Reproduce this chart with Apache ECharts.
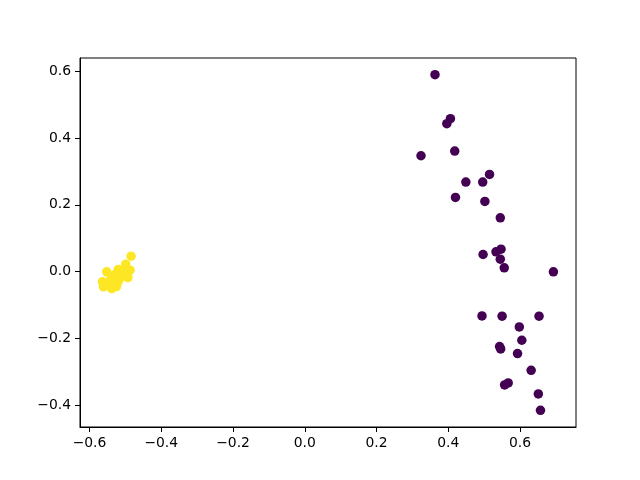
<!DOCTYPE html>
<html>
<head>
<meta charset="utf-8">
<script src="https://cdn.jsdelivr.net/npm/echarts@6/dist/echarts.min.js"></script>
<style>html,body{margin:0;padding:0;background:#fff;}#c{width:640px;height:480px;}</style>
</head>
<body>
<div id="c"></div>
<script>
const purpleX = [0.363, 0.406, 0.396, 0.324, 0.418, 0.515, 0.449, 0.496, 0.420, 0.502, 0.545,
  0.497, 0.533, 0.547, 0.545, 0.556, 0.693, 0.494, 0.550, 0.653, 0.598, 0.605, 0.543, 0.546,
  0.593, 0.631, 0.557, 0.567, 0.651, 0.657];
const purpleY = [0.590, 0.458, 0.443, 0.347, 0.361, 0.291, 0.268, 0.268, 0.222, 0.210, 0.161,
  0.051, 0.059, 0.067, 0.037, 0.011, -0.001, -0.133, -0.134, -0.134, -0.166, -0.206, -0.225, -0.232,
  -0.246, -0.296, -0.340, -0.334, -0.367, -0.416];
const yellowX = [-0.484, -0.499, -0.487, -0.493, -0.520, -0.552, -0.564, -0.561, -0.538, -0.529, -0.510,
  -0.540, -0.530, -0.520, -0.550, -0.510, -0.500, -0.545, -0.525, -0.515, -0.505, -0.535];
const yellowY = [0.046, 0.022, 0.004, -0.018, 0.006, -0.001, -0.031, -0.046, -0.051, -0.026, -0.016,
  -0.020, -0.010, -0.030, -0.035, 0.000, 0.010, -0.040, -0.045, -0.005, -0.010, -0.030];
const xTicks = [-0.6, -0.4, -0.2, 0.0, 0.2, 0.4, 0.6];
const yTicks = [-0.4, -0.2, 0.0, 0.2, 0.4, 0.6];

const fmt = v => (Math.round(v * 10) / 10).toFixed(1).replace('-', '\u2212');
const purple = purpleX.map((x, i) => [x, purpleY[i]]);
const yellow = yellowX.map((x, i) => [x, yellowY[i]]);

const chart = echarts.init(document.getElementById('c'), null, {renderer: 'canvas'});
const axisCommon = {
  type: 'value',
  splitLine: {show: false},
  axisLine: {show: true, onZero: false, lineStyle: {color: '#000', width: 1}},
  axisTick: {show: true, inside: false, length: 5, lineStyle: {color: '#000', width: 1}},
  axisLabel: {color: '#000', fontSize: 13.9, fontFamily: 'DejaVu Sans', margin: 9, formatter: fmt}
};
chart.setOption({
  animation: false,
  backgroundColor: '#fff',
  grid: {left: 80, right: 64, top: 58, bottom: 53, show: true, borderColor: '#000', borderWidth: 1},
  xAxis: Object.assign({}, axisCommon, {
    min: -0.6265, max: 0.756,
    axisTick: Object.assign({}, axisCommon.axisTick, {customValues: xTicks}),
    axisLabel: Object.assign({}, axisCommon.axisLabel, {customValues: xTicks})
  }),
  yAxis: Object.assign({}, axisCommon, {
    min: -0.466, max: 0.640,
    axisTick: Object.assign({}, axisCommon.axisTick, {customValues: yTicks}),
    axisLabel: Object.assign({}, axisCommon.axisLabel, {customValues: yTicks})
  }),
  series: [
    {type: 'scatter', data: purple, symbol: 'circle', symbolSize: 9.5, itemStyle: {color: '#440154', opacity: 1}},
    {type: 'scatter', data: yellow, symbol: 'circle', symbolSize: 9.5, itemStyle: {color: '#fde725', opacity: 1}}
  ]
});
</script>
</body>
</html>
